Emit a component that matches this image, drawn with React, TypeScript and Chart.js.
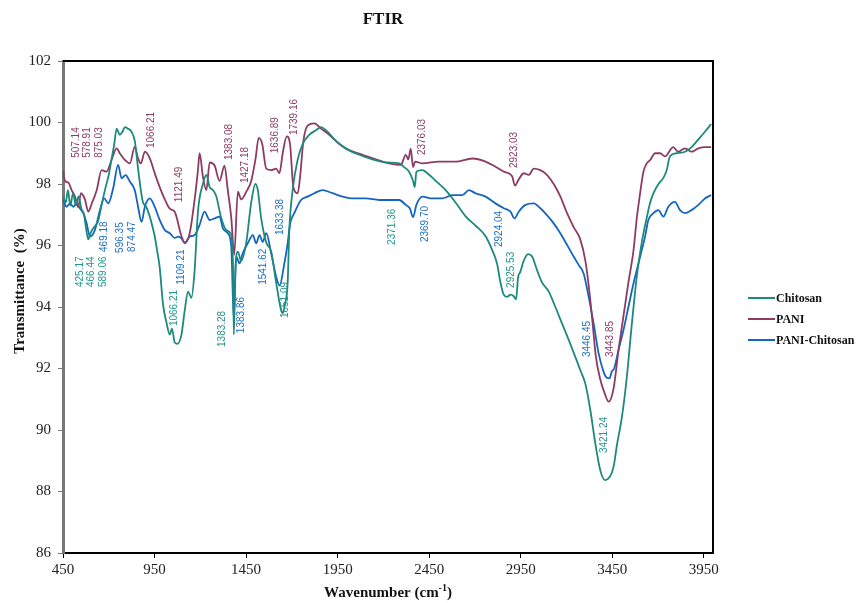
import { useEffect, useRef } from 'react';
import { Chart, registerables } from 'chart.js';

Chart.register(...registerables);

const seriesNames = ['Chitosan', 'PANI', 'PANI-Chitosan'];
const seriesColors = ['#1b8a7c', '#8e3b63', '#1565c0'];
const labelColors = ['#21968a', '#8e3b63', '#1e6fc4'];

const xTickValues = [450, 950, 1450, 1950, 2450, 2950, 3450, 3950];

const chitosanWn = [450, 465, 477, 490, 505, 520, 535, 550, 565, 575, 588, 600, 620, 642, 660, 679, 700, 715, 730, 743, 760, 775, 788, 805, 824, 842, 860, 875, 887, 900, 915, 935, 951, 965, 978, 996, 1015, 1033, 1045, 1060, 1075, 1097, 1115, 1133, 1151, 1169, 1187, 1214, 1233, 1251, 1269, 1287, 1314, 1342, 1365, 1378, 1383, 1392, 1405, 1423, 1451, 1478, 1501, 1514, 1532, 1560, 1587, 1614, 1641, 1651, 1659, 1677, 1686, 1704, 1732, 1759, 1795, 1832, 1859, 1886, 1941, 1995, 2068, 2140, 2213, 2286, 2313, 2340, 2362, 2371, 2380, 2413, 2440, 2486, 2540, 2594, 2649, 2703, 2758, 2794, 2821, 2839, 2857, 2875, 2894, 2912, 2925, 2935, 2948, 2966, 2990, 3012, 3039, 3066, 3103, 3139, 3175, 3212, 3248, 3275, 3303, 3330, 3357, 3384, 3410, 3425, 3447, 3460, 3475, 3502, 3529, 3556, 3584, 3611, 3638, 3657, 3675, 3702, 3729, 3747, 3765, 3801, 3847, 3883, 3920, 3956, 3990];
const chitosanT = [97.6, 97.4, 97.8, 97.3, 97.7, 97.3, 97.6, 97.2, 97.0, 96.6, 96.2, 96.4, 96.6, 96.8, 97.3, 97.8, 98.3, 98.8, 99.3, 99.8, 99.6, 99.7, 99.85, 99.8, 99.7, 99.4, 98.5, 97.8, 97.4, 97.3, 97.1, 96.7, 96.3, 95.8, 95.3, 94.1, 93.5, 93.1, 93.3, 92.85, 92.8, 93.1, 93.9, 94.5, 94.3, 95.2, 97.1, 98.0, 98.3, 97.9, 97.8, 97.6, 96.9, 96.5, 96.4, 95.5, 93.1, 95.3, 95.8, 95.5, 96.1, 97.4, 98.0, 97.8, 96.9, 96.1, 95.8, 94.8, 93.9, 93.8, 94.0, 94.8, 96.5, 97.8, 98.8, 99.3, 99.6, 99.75, 99.85, 99.75, 99.4, 99.15, 98.95, 98.8, 98.7, 98.67, 98.55, 98.4, 98.1, 97.9, 98.4, 98.45, 98.35, 98.1, 97.8, 97.4, 96.95, 96.65, 96.3, 95.85, 95.4, 94.8, 94.4, 94.33, 94.4, 94.35, 94.25, 94.95, 95.15, 95.5, 95.72, 95.64, 95.2, 94.8, 94.5, 94.0, 93.47, 92.93, 92.38, 91.95, 91.5, 90.65, 89.57, 88.7, 88.37, 88.4, 88.6, 88.9, 89.5, 90.4, 91.7, 93.4, 95.0, 96.1, 96.9, 97.4, 97.7, 98.0, 98.2, 98.45, 98.9, 99.0, 99.05, 99.2, 99.45, 99.7, 99.95];

const paniWn = [450, 461, 479, 497, 515, 533, 548, 570, 588, 606, 634, 661, 688, 715, 743, 760, 788, 815, 842, 860, 875, 897, 924, 951, 978, 1006, 1033, 1060, 1069, 1097, 1115, 1142, 1169, 1187, 1196, 1214, 1233, 1251, 1278, 1305, 1332, 1350, 1369, 1385, 1405, 1423, 1451, 1478, 1501, 1519, 1538, 1560, 1587, 1614, 1632, 1650, 1672, 1690, 1708, 1732, 1745, 1763, 1786, 1823, 1859, 1904, 1959, 2013, 2086, 2159, 2231, 2295, 2322, 2336, 2349, 2362, 2373, 2413, 2504, 2595, 2685, 2758, 2812, 2858, 2903, 2918, 2939, 2966, 2994, 3021, 3057, 3093, 3130, 3166, 3203, 3239, 3275, 3303, 3324, 3342, 3360, 3384, 3408, 3430, 3457, 3484, 3511, 3538, 3566, 3584, 3602, 3620, 3638, 3657, 3684, 3711, 3738, 3783, 3810, 3847, 3883, 3920, 3956, 3990];
const paniT = [98.45, 98.1, 98.05, 97.8, 97.6, 97.25, 97.7, 97.5, 97.1, 97.35, 97.8, 98.45, 98.4, 98.78, 99.16, 99.0, 98.78, 98.67, 99.21, 98.83, 98.67, 99.05, 98.83, 98.35, 97.9, 97.5, 97.2, 97.1, 96.95, 96.3, 96.1, 96.4, 97.5, 98.45, 99.0, 98.25, 97.8, 98.7, 98.6, 98.1, 98.6, 97.8, 96.9, 95.7, 97.75, 97.5, 97.75, 98.1, 98.8, 99.5, 99.3, 98.5, 98.45, 98.5, 98.35, 99.0, 99.55, 99.3, 97.9, 97.7, 98.25, 99.4, 99.9, 99.97, 99.8, 99.6, 99.3, 99.1, 98.95, 98.8, 98.67, 98.62, 98.95, 98.8, 99.15, 98.55, 98.73, 98.67, 98.73, 98.73, 98.83, 98.73, 98.56, 98.4, 98.25, 97.95, 98.15, 98.35, 98.3, 98.5, 98.45, 98.3, 98.0, 97.6, 97.05, 96.6, 96.2, 95.5, 94.55, 93.5, 92.4, 91.65, 91.2, 90.92, 91.35, 92.6, 93.7, 94.8, 95.85, 96.9, 97.7, 98.4, 98.67, 98.78, 99.0, 99.0, 98.9, 99.2, 99.05, 99.16, 99.05, 99.16, 99.2, 99.2];

const compositeWn = [450, 470, 488, 506, 525, 543, 561, 579, 597, 624, 652, 675, 697, 724, 751, 770, 792, 815, 842, 860, 879, 897, 924, 951, 978, 1006, 1033, 1060, 1080, 1097, 1115, 1142, 1169, 1196, 1223, 1251, 1278, 1305, 1323, 1350, 1369, 1383, 1396, 1414, 1432, 1459, 1487, 1505, 1523, 1541, 1560, 1587, 1614, 1633, 1659, 1677, 1690, 1713, 1750, 1786, 1823, 1868, 1922, 1977, 2031, 2104, 2177, 2249, 2286, 2322, 2344, 2362, 2380, 2413, 2467, 2522, 2576, 2631, 2667, 2703, 2758, 2812, 2858, 2894, 2916, 2939, 2976, 3021, 3057, 3093, 3130, 3166, 3203, 3239, 3266, 3293, 3321, 3348, 3375, 3402, 3420, 3435, 3447, 3460, 3484, 3511, 3538, 3566, 3593, 3611, 3629, 3647, 3675, 3702, 3729, 3756, 3792, 3820, 3847, 3883, 3920, 3956, 3990];
const compositeT = [97.5, 97.26, 97.37, 97.26, 97.37, 97.2, 97.05, 96.72, 96.29, 96.5, 97.15, 97.53, 97.37, 97.86, 98.62, 98.19, 98.29, 98.08, 97.8, 97.26, 96.77, 97.26, 97.53, 97.26, 96.83, 96.5, 96.4, 96.25, 96.29, 96.23, 96.07, 96.29, 96.34, 96.67, 97.1, 96.83, 96.88, 96.94, 96.56, 96.4, 95.96, 93.6, 95.64, 95.42, 95.75, 96.07, 96.34, 96.07, 96.34, 96.12, 96.4, 95.75, 94.99, 94.7, 95.42, 96.07, 96.7, 97.05, 97.48, 97.59, 97.7, 97.8, 97.7, 97.59, 97.53, 97.53, 97.48, 97.48, 97.48, 97.32, 97.21, 96.92, 97.32, 97.59, 97.53, 97.53, 97.64, 97.64, 97.8, 97.7, 97.59, 97.37, 97.21, 97.1, 96.88, 97.1, 97.32, 97.37, 97.21, 96.99, 96.72, 96.4, 96.02, 95.64, 95.37, 95.1, 94.33, 93.47, 92.5, 91.9, 91.7, 91.68, 91.9, 92.0, 92.6, 93.25, 94.0, 94.77, 95.42, 95.85, 96.29, 96.83, 97.05, 97.15, 96.94, 97.26, 97.42, 97.15, 97.05, 97.15, 97.32, 97.53, 97.64];

// peak labels: text, anchor wavenumber (centre of rotated text), transmittance at the text start, series index
const peakLabelText = ['507.14', '578.91', '875.03', '1066.21', '1121.49', '1383.08', '1427.18', '1636.89', '1739.16', '2376.03', '2923.03', '3443.85', '425.17', '466.44', '589.06', '1066.21', '1383.28', '1651.09', '2371.36', '2925.53', '3421.24', '469.18', '596.35', '874.47', '1109.21', '1383.86', '1541.62', '1633.38', '2369.70', '2924.04', '3446.45'];
const peakLabelX = [521, 582, 648, 933, 1083, 1360, 1447, 1609, 1714, 2413, 2912, 3439, 543, 606, 670, 1055, 1322, 1665, 2249, 2900, 3408, 673, 760, 830, 1097, 1425, 1541, 1637, 2426, 2830, 3311];
const peakLabelY = [98.85, 98.85, 98.85, 99.17, 97.41, 98.78, 98.03, 99.0, 99.59, 98.94, 98.52, 92.37, 94.65, 94.65, 94.65, 93.38, 92.7, 93.64, 96.02, 94.62, 89.25, 95.79, 95.76, 95.79, 94.72, 93.15, 94.72, 96.34, 96.11, 95.95, 92.37];
const peakLabelSeries = [1, 1, 1, 1, 1, 1, 1, 1, 1, 1, 1, 1, 0, 0, 0, 0, 0, 0, 0, 0, 0, 2, 2, 2, 2, 2, 2, 2, 2, 2, 2];

const SERIF = '"Liberation Serif", "Times New Roman", serif';

const decorPlugin = {
  id: 'ftirDecor',
  afterDatasetsDraw(chart: any) {
    const { ctx, scales } = chart;
    const xs = scales.x;
    const ys = scales.y;
    ctx.save();
    ctx.font = '10px "Liberation Sans", Arial, sans-serif';
    ctx.textAlign = 'left';
    ctx.textBaseline = 'middle';
    for (let i = 0; i < peakLabelText.length; i++) {
      const px = xs.getPixelForValue(peakLabelX[i]);
      const py = ys.getPixelForValue(peakLabelY[i]);
      ctx.save();
      ctx.translate(px, py);
      ctx.rotate(-Math.PI / 2);
      ctx.fillStyle = labelColors[peakLabelSeries[i]];
      ctx.fillText(peakLabelText[i], 0, 0);
      ctx.restore();
    }
    ctx.restore();
  },
  afterDraw(chart: any) {
    const { ctx, chartArea } = chart;
    const { left, right, top, bottom } = chartArea;
    ctx.save();
    // frame: top and right
    ctx.strokeStyle = '#000';
    ctx.lineWidth = 2;
    ctx.beginPath();
    ctx.moveTo(left, top);
    ctx.lineTo(right, top);
    ctx.lineTo(right, bottom);
    ctx.stroke();

    // title
    ctx.fillStyle = '#111';
    ctx.font = 'bold 17px ' + SERIF;
    ctx.textAlign = 'center';
    ctx.textBaseline = 'middle';
    ctx.fillText('FTIR', (left + right) / 2 - 5, 20);

    // y title
    ctx.save();
    ctx.translate(20, (top + bottom) / 2 - 16);
    ctx.rotate(-Math.PI / 2);
    ctx.font = 'bold 15px ' + SERIF;
    ctx.fillText('Transmittance  (%)', 0, 0);
    ctx.restore();

    // x title with superscript
    const main = 'Wavenumber (cm';
    const sup = '-1';
    const close = ')';
    ctx.font = 'bold 15px ' + SERIF;
    const w1 = ctx.measureText(main).width;
    const w3 = ctx.measureText(close).width;
    ctx.font = 'bold 10px ' + SERIF;
    const w2 = ctx.measureText(sup).width;
    const total = w1 + w2 + w3;
    let x0 = (left + right) / 2 - total / 2;
    const ty = 593;
    ctx.textAlign = 'left';
    ctx.font = 'bold 15px ' + SERIF;
    ctx.fillText(main, x0, ty);
    ctx.font = 'bold 10px ' + SERIF;
    ctx.fillText(sup, x0 + w1, ty - 5);
    ctx.font = 'bold 15px ' + SERIF;
    ctx.fillText(close, x0 + w1 + w2, ty);

    // legend
    const mid = (top + bottom) / 2;
    ctx.font = 'bold 12px ' + SERIF;
    ctx.textBaseline = 'middle';
    chart.data.datasets.forEach((ds: any, i: number) => {
      const y = mid - 9 + 21 * i;
      ctx.strokeStyle = ds.borderColor;
      ctx.lineWidth = 2;
      ctx.beginPath();
      ctx.moveTo(right + 35, y);
      ctx.lineTo(right + 62, y);
      ctx.stroke();
      ctx.fillStyle = '#111';
      ctx.fillText(ds.label, right + 63, y + 1);
    });
    ctx.restore();
  },
};

function toPoints(xs: number[], ys: number[]) {
  return xs.map((x, i) => ({ x, y: ys[i] }));
}

export default function App() {
  const ref = useRef<HTMLCanvasElement>(null);
  useEffect(() => {
    if (!ref.current) return;
    const datasets = [
      toPoints(chitosanWn, chitosanT),
      toPoints(paniWn, paniT),
      toPoints(compositeWn, compositeT),
    ].map((pts, i) => ({
      label: seriesNames[i],
      data: pts,
      borderColor: seriesColors[i],
      backgroundColor: seriesColors[i],
      borderWidth: 1.8,
      pointRadius: 0,
      fill: false,
      cubicInterpolationMode: 'monotone' as const,
    }));
    const tickFont = { family: SERIF, size: 15 };
    const chart = new Chart(ref.current, {
      type: 'line',
      data: { datasets },
      plugins: [decorPlugin],
      options: {
        responsive: false,
        animation: false,
        devicePixelRatio: 1,
        layout: { padding: { top: 61, right: 144, left: 0, bottom: 0 } },
        plugins: {
          legend: { display: false },
          title: { display: false },
          tooltip: { enabled: false },
        },
        scales: {
          x: {
            type: 'linear',
            min: 450,
            max: 4000,
            afterBuildTicks: (s: any) => {
              s.ticks = xTickValues.map((v) => ({ value: v }));
            },
            afterFit: (s: any) => {
              s.height = 50;
            },
            ticks: {
              font: tickFont,
              color: '#222',
              padding: 3,
              maxRotation: 0,
              autoSkip: false,
              callback: (v: any) => String(v),
            },
            grid: { display: true, drawOnChartArea: false, drawTicks: true, tickLength: 5, color: '#000' },
            border: { display: true, color: '#000', width: 2 },
          },
          y: {
            type: 'linear',
            min: 86,
            max: 102,
            afterFit: (s: any) => {
              s.width = 63;
            },
            ticks: {
              stepSize: 2,
              font: tickFont,
              color: '#222',
              padding: 7,
              callback: (v: any) => String(v),
            },
            grid: { display: true, drawOnChartArea: false, drawTicks: true, tickLength: 5, color: '#777' },
            border: { display: true, color: '#777', width: 3 },
          },
        },
      },
    });
    return () => chart.destroy();
  }, []);
  return (
    <div style={{ position: 'absolute', left: 0, top: 0, width: 857, height: 603, background: '#fff' }}>
      <canvas ref={ref} width={857} height={603} style={{ display: 'block' }} />
    </div>
  );
}
